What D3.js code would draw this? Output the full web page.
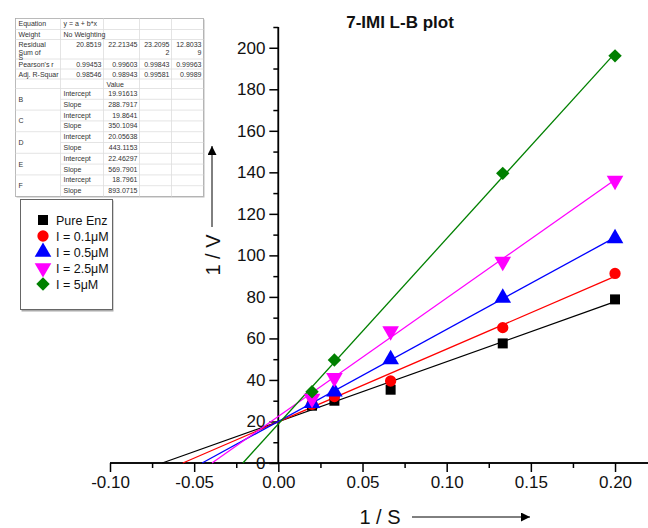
<!DOCTYPE html>
<html>
<head>
<meta charset="utf-8">
<script src="https://cdn.jsdelivr.net/npm/d3@7"></script>
<style>
  body { margin: 0; background: #fff; }
  svg { display: block; font-family: "Liberation Sans", Arial, sans-serif; }
  .tbl text { font-size: 7px; fill: #333; }
</style>
</head>
<body>
<svg id="chart" width="648" height="528"></svg>
<script>
// 1/S values of the substrate series
const inv_s = [0.02, 0.0333, 0.0667, 0.1333, 0.2];

const series_names = ['Pure Enz', 'I = 0.1\u03bcM', 'I = 0.5\u03bcM', 'I = 2.5\u03bcM', 'I = 5\u03bcM'];
const pure_enz = [27.6, 30.0, 35.3, 57.6, 78.8];
const i_01 = [28.3, 32.0, 39.5, 65.2, 91.3];
const i_05 = [28.8, 34.3, 49.9, 79.5, 108.2];
const i_25 = [31.0, 41.0, 63.5, 97.0, 136.0];
const i_5 = [34.3, 49.6, null, 139.5, 196.1];

// linear fit results (from the table)
const fit_labels = ['B', 'C', 'D', 'E', 'F'];
const fit_intercept = [19.91613, 19.8641, 20.05638, 22.46297, 18.7961];
const fit_slope = [288.7917, 350.1094, 443.1153, 569.7901, 893.0715];
const fit_residual = ['20.8519', '22.21345', '23.2095\n2', '12.8033\n9'];
const fit_pearson = ['0.99453', '0.99603', '0.99843', '0.99963'];
const fit_adj_r2 = ['0.98546', '0.98943', '0.99581', '0.9989'];

const x_ticks = [-0.10, -0.05, 0.00, 0.05, 0.10, 0.15, 0.20];
const x_minor = [-0.075, -0.025, 0.025, 0.075, 0.125, 0.175];
const y_ticks = [0, 20, 40, 60, 80, 100, 120, 140, 160, 180, 200];
const y_minor = [10, 30, 50, 70, 90, 110, 130, 150, 170, 190, 210];

const colors = ['#000000', '#ff0000', '#0000ff', '#ff00ff', '#008000'];

const svg = d3.select('#chart');

const x = d3.scaleLinear().domain([-0.10, 0.22]).range([110, 648.7]);
const y = d3.scaleLinear().domain([0, 210]).range([463, 27]);

// axes
const x_axis = svg.append('g').attr('transform', 'translate(0,' + y(0) + ')');
x_axis.append('g').call(d3.axisBottom(x).tickValues(x_minor).tickSize(5).tickFormat(''));
const x_major = x_axis.append('g').call(d3.axisBottom(x).tickValues(x_ticks).tickSize(9).tickPadding(4)
  .tickFormat(d => d3.format('.2f')(d).replace('\u2212', '-')));
x_axis.selectAll('.domain').attr('d', 'M' + x(-0.10) + ',0H648').attr('stroke', '#000').attr('stroke-width', 1.5);
x_axis.selectAll('line').attr('stroke-width', 1.5);
x_major.selectAll('text').attr('font-size', 17).attr('fill', '#111').attr('font-family', null);

const y_axis = svg.append('g').attr('transform', 'translate(' + x(0) + ',0)');
y_axis.append('g').call(d3.axisLeft(y).tickValues(y_minor).tickSize(5).tickFormat(''));
const y_major = y_axis.append('g').call(d3.axisLeft(y).tickValues(y_ticks).tickSize(9).tickPadding(4));
y_axis.selectAll('.domain').attr('d', 'M0,' + y(0) + 'V' + y(210)).attr('stroke', '#000').attr('stroke-width', 1.5);
y_axis.selectAll('line').attr('stroke-width', 1.5);
y_major.selectAll('text').attr('font-size', 17).attr('fill', '#111');
svg.selectAll('.tick text').attr('font-family', null);
x_axis.attr('font-family', null);
y_axis.attr('font-family', null);
x_axis.selectAll('g').attr('font-family', null);
y_axis.selectAll('g').attr('font-family', null);

// fit lines from x-intercept to last point
const line = d3.line().x(d => x(d[0])).y(d => y(d[1]));
fit_slope.forEach(function(b, i) {
  let a = fit_intercept[i];
  let x0 = -a / b;
  svg.append('path')
    .attr('d', line([[x0, 0], [0.2, a + b * 0.2]]))
    .attr('fill', 'none')
    .attr('stroke', colors[i])
    .attr('stroke-width', 1.3);
});

// markers
const all_series = [pure_enz, i_01, i_05, i_25, i_5];
const symbol_for = function(i) {
  if (i === 0) return d3.symbol(d3.symbolSquare, 100)();
  if (i === 1) return d3.symbol(d3.symbolCircle, 100)();
  if (i === 2 || i === 3) return d3.symbol(d3.symbolTriangle, 120)();
  return d3.symbol(d3.symbolSquare, 90)();
};
const rotate_for = function(i) {
  if (i === 3) return ' rotate(180)';
  if (i === 4) return ' rotate(45)';
  return '';
};
all_series.forEach(function(vals, i) {
  vals.forEach(function(v, j) {
    if (v === null) return;
    svg.append('path')
      .attr('d', symbol_for(i))
      .attr('fill', colors[i])
      .attr('transform', 'translate(' + x(inv_s[j]) + ',' + y(v) + ')' + rotate_for(i));
  });
});

// title
svg.append('text').attr('x', 400).attr('y', 28).attr('text-anchor', 'middle')
  .attr('font-size', 17).attr('font-weight', 'bold').attr('fill', '#111').text('7-IMI L-B plot');

// axis titles with arrows
svg.append('defs').append('marker').attr('id', 'arr')
  .attr('viewBox', '0 0 10 10').attr('refX', 10).attr('refY', 5)
  .attr('markerWidth', 9).attr('markerHeight', 9).attr('markerUnits', 'userSpaceOnUse')
  .attr('orient', 'auto')
  .append('path').attr('d', 'M0,0L10,5L0,10Z').attr('fill', '#000');

svg.append('text').attr('transform', 'translate(220,255) rotate(-90)').attr('text-anchor', 'middle')
  .attr('font-size', 20).attr('fill', '#111').text('1 / V');
svg.append('line').attr('x1', 212).attr('x2', 212).attr('y1', 227).attr('y2', 146)
  .attr('stroke', '#000').attr('stroke-width', 1).attr('marker-end', 'url(#arr)');

svg.append('text').attr('x', 380).attr('y', 524).attr('text-anchor', 'middle')
  .attr('font-size', 20).attr('fill', '#111').text('1 / S');
svg.append('line').attr('x1', 412).attr('x2', 530).attr('y1', 517).attr('y2', 517)
  .attr('stroke', '#000').attr('stroke-width', 1).attr('marker-end', 'url(#arr)');

// legend
const lg = svg.append('g');
lg.append('rect').attr('x', 21.5).attr('y', 200.5).attr('width', 92).attr('height', 111).attr('fill', '#aaa');
lg.append('rect').attr('x', 20.5).attr('y', 199.5).attr('width', 92).attr('height', 110)
  .attr('fill', '#fff').attr('stroke', '#666');
series_names.forEach(function(name, i) {
  let yy = 220 + i * 16;
  lg.append('path').attr('d', symbol_for(i)).attr('fill', colors[i])
    .attr('transform', 'translate(43,' + yy + ')' + rotate_for(i));
  lg.append('text').attr('x', 56).attr('y', yy + 4.5).attr('font-size', 12.5).attr('fill', '#111').text(name);
});

// fit table
const tbl = svg.append('g').attr('class', 'tbl');
const col_x = [15.5, 60.5, 103.5, 139.5, 171.5, 203.5];
let row_y = [18.5, 29.5, 39.5, 59, 69, 79, 88.5];
for (let k = 1; k <= 10; k++) row_y.push(88.5 + k * 10.8);

tbl.append('rect').attr('x', col_x[0] + 1).attr('y', row_y[0] + 1)
  .attr('width', col_x[5] - col_x[0]).attr('height', row_y[row_y.length - 1] - row_y[0]).attr('fill', '#bbb');
tbl.append('rect').attr('x', col_x[0]).attr('y', row_y[0])
  .attr('width', col_x[5] - col_x[0]).attr('height', row_y[row_y.length - 1] - row_y[0])
  .attr('fill', '#fff').attr('stroke', '#aaa').attr('stroke-width', 0.8);

row_y.slice(1, -1).forEach(function(ry, k) {
  let idx = k + 1;
  // inside the B..F groups the first column is merged
  let x_start = (idx > 6 && (idx - 6) % 2 === 1) ? col_x[1] : col_x[0];
  tbl.append('line').attr('x1', x_start).attr('x2', col_x[5]).attr('y1', ry).attr('y2', ry)
    .attr('stroke', '#ddd').attr('stroke-width', 0.8);
});
col_x.slice(1, -1).forEach(function(cx) {
  tbl.append('line').attr('x1', cx).attr('x2', cx).attr('y1', row_y[0]).attr('y2', row_y[row_y.length - 1])
    .attr('stroke', '#ddd').attr('stroke-width', 0.8);
});

const cell_text = function(txt, col, row, align) {
  let lines = txt.split('\n');
  let tx = align === 'end' ? col_x[col + 1] - 2 : col_x[col] + 3;
  lines.forEach(function(l, n) {
    tbl.append('text').attr('x', tx).attr('y', row_y[row] + 7.5 + n * 7.5)
      .attr('text-anchor', align === 'end' ? 'end' : 'start').text(l);
  });
};
cell_text('Equation', 0, 0);
cell_text('y = a + b*x', 1, 0);
cell_text('Weight', 0, 1);
cell_text('No Weighting', 1, 1);
cell_text('Residual\nSum of', 0, 2);
tbl.append('text').attr('x', col_x[0] + 3).attr('y', row_y[3] + 1).text('S').attr('font-size', 6);
fit_residual.forEach((v, i) => cell_text(v, i + 1, 2, 'end'));
cell_text("Pearson's r", 0, 3);
fit_pearson.forEach((v, i) => cell_text(v, i + 1, 3, 'end'));
cell_text('Adj. R-Squar', 0, 4);
fit_adj_r2.forEach((v, i) => cell_text(v, i + 1, 4, 'end'));
cell_text('Value', 2, 5);
fit_labels.forEach(function(lbl, i) {
  let r = 6 + i * 2;
  tbl.append('text').attr('x', col_x[0] + 3).attr('y', row_y[r + 1] + 2.5).text(lbl);
  cell_text('Intercept', 1, r);
  cell_text(String(fit_intercept[i]), 2, r, 'end');
  cell_text('Slope', 1, r + 1);
  cell_text(String(fit_slope[i]), 2, r + 1, 'end');
});
</script>
</body>
</html>
